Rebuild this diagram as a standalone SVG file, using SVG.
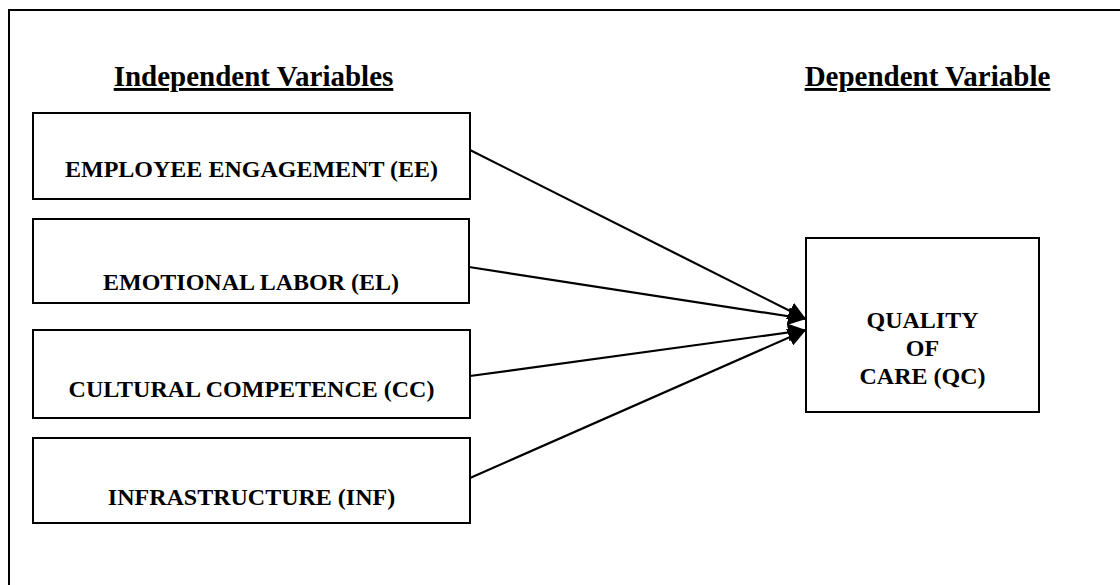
<svg xmlns="http://www.w3.org/2000/svg" width="1120" height="585" viewBox="0 0 1120 585">
  <style>
    .frame { fill: none; stroke: #000; stroke-width: 2; }
    .box { fill: #fff; stroke: #000; stroke-width: 2; }
    .head { font-family: "Liberation Serif", "Times New Roman", serif; font-size: 29px; font-weight: bold; text-anchor: middle; text-decoration: underline; fill: #000; }
    .label { font-family: "Liberation Serif", "Times New Roman", serif; font-size: 24px; font-weight: bold; text-anchor: middle; fill: #000; }
    .edge { fill: none; stroke: #000; stroke-width: 2.2; marker-end: url(#arrow); }
  </style>
  <defs>
    <marker id="arrow" viewBox="0 0 18 18" refX="18" refY="9" markerWidth="18" markerHeight="18" markerUnits="userSpaceOnUse" orient="auto">
      <path d="M0,0 L18,9 L0,18 Z" fill="#000"/>
    </marker>
  </defs>

  <rect width="1120" height="585" fill="#fff"/>
  <!-- open frame: left and top edges only -->
  <path class="frame" d="M9,585 V10 H1120"/>

  <text class="head" x="253.5" y="86">Independent Variables</text>
  <text class="head" x="927.5" y="86">Dependent Variable</text>

  <g id="ee">
    <rect class="box" x="33" y="113" width="437" height="86"/>
    <text class="label" x="251.5" y="177">EMPLOYEE ENGAGEMENT (EE)</text>
  </g>
  <g id="el">
    <rect class="box" x="33" y="219" width="436" height="84"/>
    <text class="label" x="251" y="290">EMOTIONAL LABOR (EL)</text>
  </g>
  <g id="cc">
    <rect class="box" x="33" y="330" width="437" height="88"/>
    <text class="label" x="251.5" y="397">CULTURAL COMPETENCE (CC)</text>
  </g>
  <g id="inf">
    <rect class="box" x="33" y="438" width="437" height="85"/>
    <text class="label" x="251.5" y="505">INFRASTRUCTURE (INF)</text>
  </g>
  <g id="qc">
    <rect class="box" x="806" y="238" width="233" height="174"/>
    <text class="label" x="922.5" y="328">QUALITY</text>
    <text class="label" x="922.5" y="356">OF</text>
    <text class="label" x="922.5" y="384">CARE (QC)</text>
  </g>

  <g id="connectors">
    <line class="edge" x1="470" y1="150" x2="806" y2="319"/>
    <line class="edge" x1="469" y1="267" x2="806" y2="319"/>
    <line class="edge" x1="470" y1="376" x2="806" y2="330"/>
    <line class="edge" x1="470" y1="478" x2="806" y2="330"/>
  </g>
</svg>
